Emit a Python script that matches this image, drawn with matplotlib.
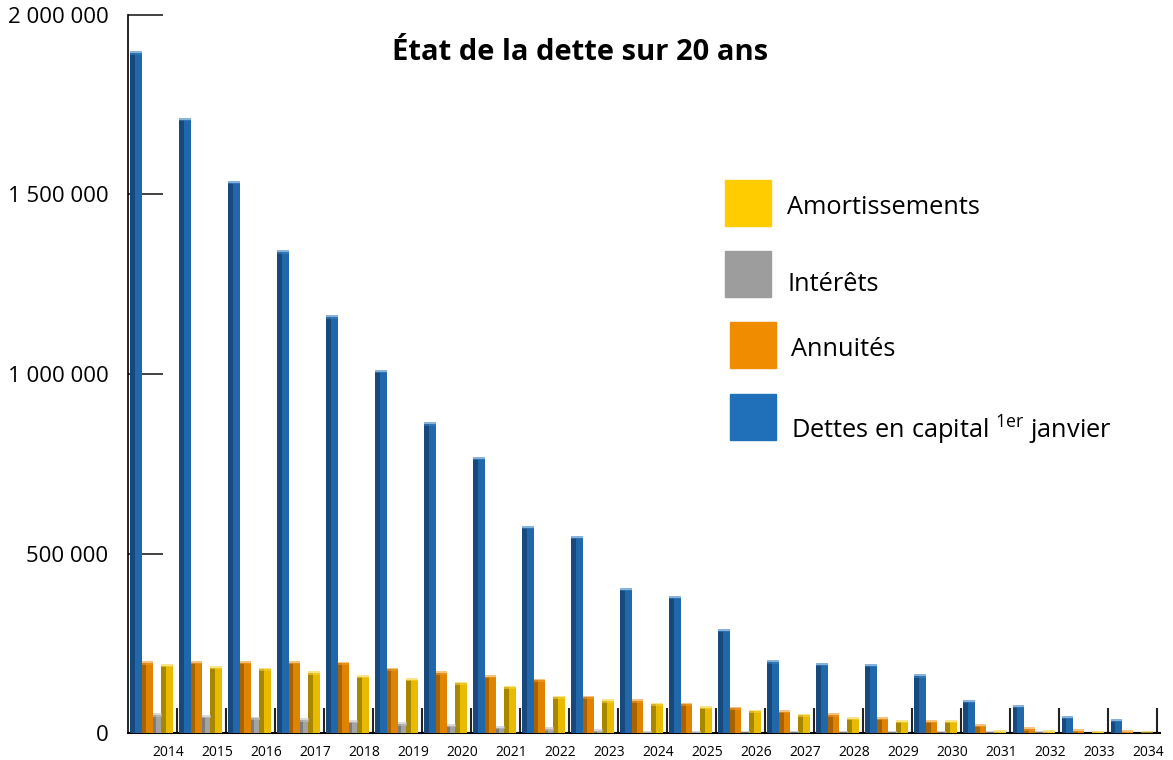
import numpy as np
import matplotlib.pyplot as plt
from matplotlib.patches import Rectangle
from matplotlib.ticker import FuncFormatter

plt.rcParams['font.family'] = ['Open Sans', 'DejaVu Sans']
plt.rcParams['mathtext.fontset'] = 'custom'
plt.rcParams['mathtext.rm'] = 'Open Sans'

# Data
years = [str(y) for y in range(2014, 2035)]
dettes = [1894000, 1708000, 1533000, 1340000, 1159000, 1006000, 861000, 764000,
          572000, 544000, 399000, 377000, 285000, 198000, 190000, 187000,
          159000, 87000, 73000, 43000, 34000]
annuites = [195000, 196000, 196000, 196000, 194000, 177000, 167000, 157000,
            147000, 99000, 89000, 80000, 69000, 59000, 50000, 40000,
            31000, 20000, 11000, 6000, 3500]
interets = [50000, 45000, 41000, 36000, 31000, 25000, 20000, 15000,
            11000, 6000, 2000, 1500, 500, 300, 200, 100,
            100, 50, 50, 0, 0]
amortissements = [187000, 182000, 177000, 167000, 157000, 148000, 138000, 127000,
                  99000, 89000, 80000, 70000, 60000, 49000, 40000, 31000,
                  31000, 3000, 3000, 2000, 1000]
legend_labels = ['Amortissements', 'Intérêts', 'Annuités',
                 'Dettes en capital $^{\\mathrm{1er}}$ janvier']

# (face, dark side, cap) colours
styles = {
    'dettes': ('#2168ab', '#17497c', '#3a80c2'),
    'annuites': ('#df8300', '#a86200', '#f09a2a'),
    'interets': ('#a3a3a3', '#7c7c7c', '#c0c0c0'),
    'amort': ('#e8bb00', '#a88700', '#f7d23a'),
}
legend_colors = ['#ffcc00', '#9d9d9d', '#f08c00', '#1f70b8']

fig = plt.figure(figsize=(11.73, 7.60), dpi=100)
ax = fig.add_axes([128 / 1173, 27 / 760, 1032 / 1173, 718 / 760])

x = np.arange(len(years))
cap = 9000


def bar3d(pos, vals, key, w):
    face, side, top = styles[key]
    vals = np.array(vals, dtype=float)
    ax.bar(pos, vals, width=w, color=face, align='center', zorder=3)
    ax.bar(pos - w * 0.3, vals, width=w * 0.4, color=side, align='center', zorder=4)
    ax.bar(pos, np.where(vals > 0, cap, 0), bottom=vals - cap / 2, width=w,
           color=top, align='center', zorder=5, alpha=0.6)


bar3d(x + 0.17, dettes, 'dettes', 0.24)
bar3d(x + 0.40, annuites, 'annuites', 0.23)
bar3d(x + 0.60, interets, 'interets', 0.19)
bar3d(x + 0.795, amortissements, 'amort', 0.24)

ax.set_xlim(0, 21.06)
ax.set_ylim(0, 2000000)
ax.set_yticks([0, 500000, 1000000, 1500000, 2000000])
ax.yaxis.set_major_formatter(FuncFormatter(lambda v, p: f'{int(v):,}'.replace(',', ' ')))
ax.tick_params(axis='y', direction='in', length=25, width=1.2, labelsize=16, pad=14,
               color='#222222')

ax.set_xticks(np.arange(1, 22))
ax.set_xticklabels([])
ax.set_xticks(x + 0.82, minor=True)
ax.set_xticklabels(years, minor=True)
ax.tick_params(axis='x', which='major', direction='in', length=18, width=1.5,
               color='#222222')
ax.tick_params(axis='x', which='minor', length=0, labelsize=10, pad=9)

for s in ['top', 'right']:
    ax.spines[s].set_visible(False)
ax.spines['left'].set_linewidth(1.2)
ax.spines['bottom'].set_linewidth(1.5)

fig.text(580 / 1173, 1 - 52 / 760, 'État de la dette sur 20 ans', ha='center',
         va='center', fontsize=21, fontweight='bold')

# legend drawn by hand to follow the reference layout
leg_boxes = [(725, 180), (725, 251), (730, 322), (730, 394)]
leg_text = [(787, 208), (787, 284), (791, 349), (791, 430)]
for lab, col, (bx, by), (tx, ty) in zip(legend_labels, legend_colors, leg_boxes, leg_text):
    fig.add_artist(Rectangle((bx / 1173, 1 - (by + 46) / 760), 46 / 1173, 46 / 760,
                             transform=fig.transFigure, color=col))
    fig.text(tx / 1173, 1 - ty / 760, lab, ha='left', va='center', fontsize=18.3)

plt.savefig('out.png', dpi=100)
